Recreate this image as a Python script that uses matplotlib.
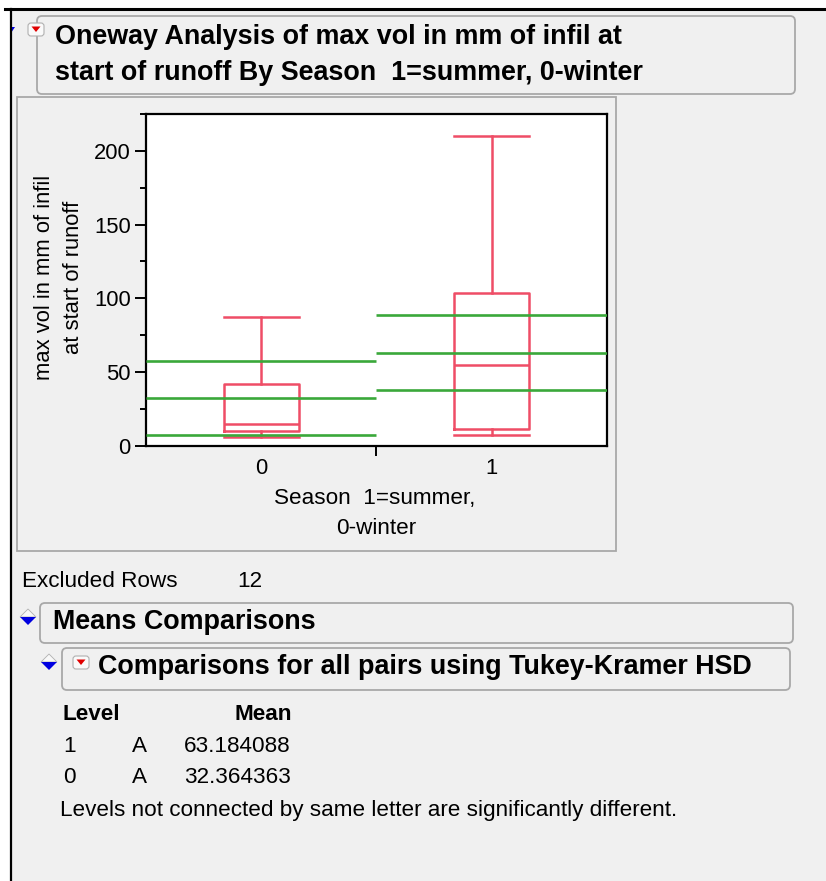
import matplotlib
matplotlib.use("Agg")
import matplotlib.pyplot as plt
from matplotlib.patches import FancyBboxPatch, Rectangle, Polygon

plt.rcParams['font.family'] = ['Liberation Sans', 'DejaVu Sans']

# ---- data ----
seasons = ['0', '1']
whisker_low = [6.1, 7.5]
quartile1 = [10.0, 11.3]
medians = [14.9, 54.8]
quartile3 = [42.1, 103.8]
whisker_high = [87.3, 210.2]
means = [32.364363, 63.184088]
std_devs = [25.1, 25.6]
connecting_letters = ['A', 'A']
excluded_rows = 12

RED = '#ef4d66'
GREEN = '#3aa83a'
PAGE = '#f0f0f0'
BORDER = '#a8a8a8'
HEAD = 19.4
BODY = 16.2

fig = plt.figure(figsize=(8.26, 8.81), dpi=100, facecolor='white')

# background canvas in pixel coordinates
bg = fig.add_axes([0, 0, 1, 1])
bg.set_xlim(0, 826)
bg.set_ylim(881, 0)
bg.axis('off')

bg.add_patch(Rectangle((11, 9), 815, 872, facecolor=PAGE, edgecolor='none'))
bg.plot([5, 826], [9, 9], color='black', lw=2.2)
bg.plot([11, 11], [9, 881], color='black', lw=1.6)


def rbox(x0, y0, x1, y1):
    bg.add_patch(FancyBboxPatch((x0, y0), x1 - x0, y1 - y0,
                                boxstyle='round,pad=0,rounding_size=5',
                                facecolor=PAGE, edgecolor=BORDER, lw=1.3))


def red_icon(x, y):
    bg.add_patch(FancyBboxPatch((x, y), 16, 13, boxstyle='round,pad=0,rounding_size=3',
                                facecolor='#fafafa', edgecolor='#b0b0b0', lw=0.8))
    bg.add_patch(Polygon([(x + 3.5, y + 3.5), (x + 12.5, y + 3.5), (x + 8, y + 9)],
                         closed=True, facecolor='#e00000', edgecolor='none'))


def blue_tri(x, y):
    bg.add_patch(Polygon([(x, y - 8), (x + 8, y), (x - 8, y)], closed=True,
                         facecolor='#f8f8f8', edgecolor='#b0b0b0', lw=0.6))
    bg.add_patch(Polygon([(x - 8, y), (x + 8, y), (x, y + 8)], closed=True,
                         facecolor='#0000e0', edgecolor='none'))


# title box
rbox(37, 16, 795, 94)
red_icon(28, 23)
bg.add_patch(Polygon([(11, 27), (15, 27), (11, 33)], closed=True, facecolor='#0000e0'))
bg.text(55, 43.5, 'Oneway Analysis of max vol in mm of infil at', fontsize=HEAD,
        fontweight='bold', ha='left', va='baseline')
bg.text(55, 80, 'start of runoff By Season  1=summer, 0-winter', fontsize=HEAD,
        fontweight='bold', ha='left', va='baseline')

# plot frame
bg.add_patch(Rectangle((17, 97), 599, 454, facecolor=PAGE, edgecolor=BORDER, lw=1.3))

# axis labels
bg.text(59, 277, 'max vol in mm of infil\nat start of runoff', fontsize=15.8,
        rotation=90, ha='center', va='center', multialignment='center',
        linespacing=1.45)
bg.text(375, 504, 'Season  1=summer,', fontsize=BODY, ha='center', va='baseline')
bg.text(376, 534, '0-winter', fontsize=BODY, ha='center', va='baseline')

# lower report
bg.text(22, 587, 'Excluded Rows', fontsize=BODY, ha='left', va='baseline')
bg.text(237, 587, str(excluded_rows), fontsize=BODY, ha='left', va='baseline')

rbox(40, 603, 793, 643)
blue_tri(28, 617)
bg.text(53, 629, 'Means Comparisons', fontsize=HEAD, fontweight='bold',
        ha='left', va='baseline')

rbox(62, 648, 790, 690)
blue_tri(49, 662)
red_icon(73, 656)
bg.text(98, 674, 'Comparisons for all pairs using Tukey-Kramer HSD', fontsize=HEAD,
        fontweight='bold', ha='left', va='baseline')

bg.text(63, 719.5, 'Level', fontsize=BODY, fontweight='bold', ha='left', va='baseline')
bg.text(292, 719.5, 'Mean', fontsize=BODY, fontweight='bold', ha='right', va='baseline')
order = sorted(range(len(seasons)), key=lambda i: -means[i])
for row, i in enumerate(order):
    yb = 752 + row * 31
    bg.text(63, yb, seasons[i], fontsize=BODY, ha='left', va='baseline')
    bg.text(132, yb, connecting_letters[i], fontsize=BODY, ha='left', va='baseline')
    bg.text(184, yb, f'{means[i]:.6f}', fontsize=BODY, ha='left', va='baseline')
bg.text(60, 816, 'Levels not connected by same letter are significantly different.',
        fontsize=BODY, ha='left', va='baseline')

# ---- main chart ----
W, H = 826, 881
ax = fig.add_axes([146 / W, 1 - 445.7 / H, 460.7 / W, 331.7 / H])
ax.set_facecolor('white')

positions = list(range(len(seasons)))
stats = []
for i in positions:
    stats.append(dict(whislo=whisker_low[i], q1=quartile1[i], med=medians[i],
                      q3=quartile3[i], whishi=whisker_high[i], fliers=[],
                      label=seasons[i]))
line_kw = dict(color=RED, lw=1.8)
ax.bxp(stats, positions=positions, widths=0.327, capwidths=0.327,
       showfliers=False, patch_artist=False,
       boxprops=line_kw, whiskerprops=line_kw, capprops=line_kw,
       medianprops=line_kw, manage_ticks=False)

for i in positions:
    for yv in (means[i] - std_devs[i], means[i], means[i] + std_devs[i]):
        ax.hlines(yv, i - 0.5, i + 0.5, color=GREEN, lw=1.9, zorder=3)

ax.set_xlim(-0.5, 1.5)
ax.set_ylim(0, 225)
ax.set_xticks(positions)
ax.set_xticklabels(seasons)
ax.set_xticks([0.5], minor=True)
ax.set_yticks([0, 50, 100, 150, 200])
ax.set_yticks([25, 75, 125, 175, 225], minor=True)
ax.tick_params(axis='y', which='major', direction='out', length=8, width=1.4,
               labelsize=15.8, pad=3)
ax.tick_params(axis='y', which='minor', direction='out', length=4.3, width=1.4)
ax.tick_params(axis='x', which='major', length=0, labelsize=15.8, pad=9)
ax.tick_params(axis='x', which='minor', direction='out', length=7, width=1.4)
for s in ax.spines.values():
    s.set_linewidth(1.6)
    s.set_color('black')

fig.savefig('out.png', dpi=100, facecolor='white')
